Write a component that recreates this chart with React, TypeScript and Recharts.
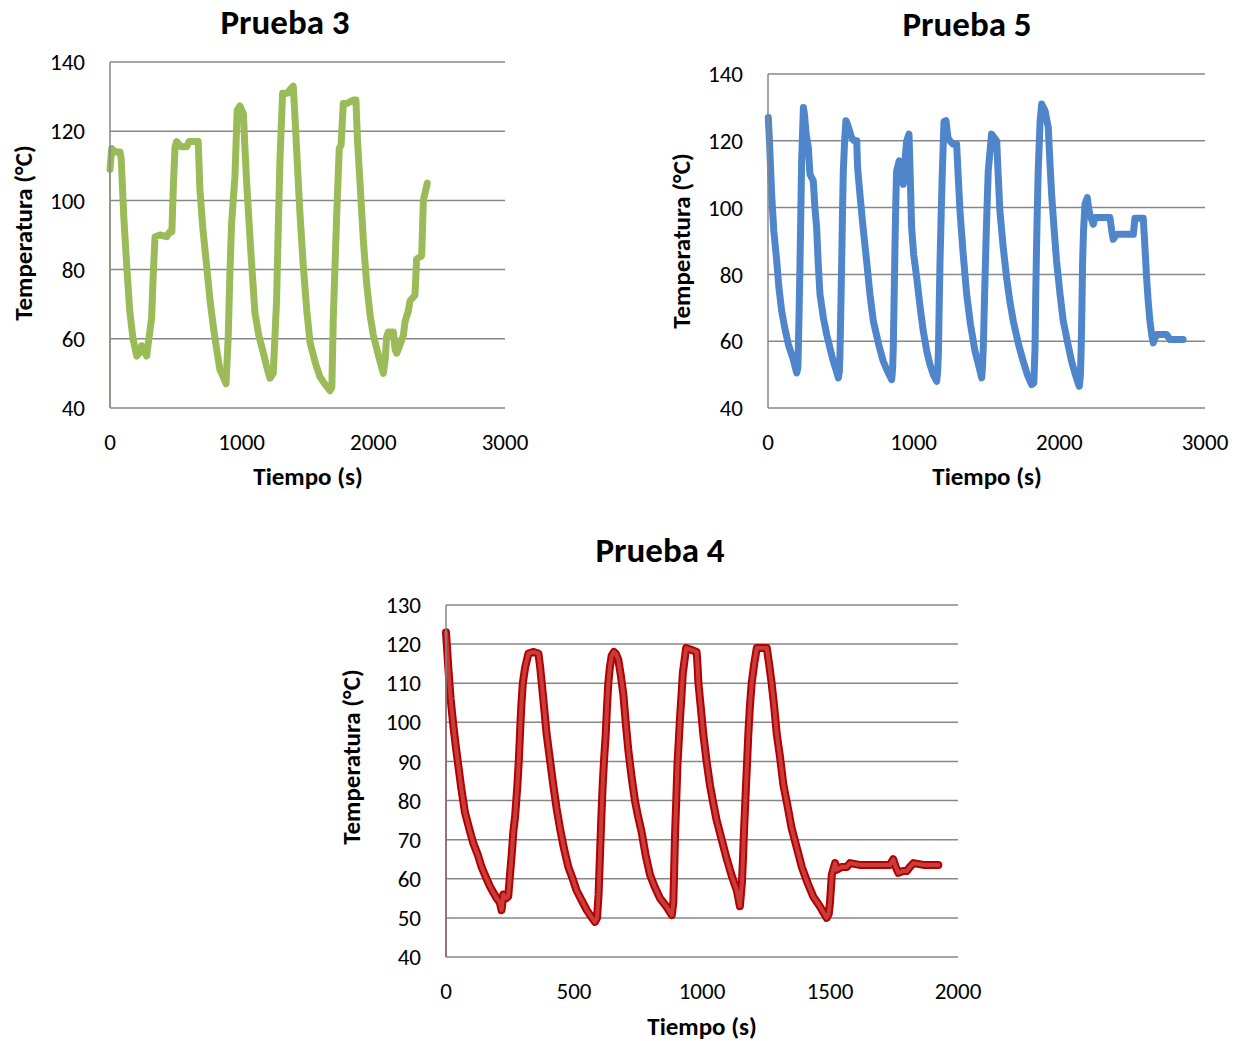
import React from "react";
import { LineChart, Line, XAxis, YAxis, CartesianGrid } from "recharts";

interface Punto {
  t: number;
  T: number;
}

const tiempo3: number[] = [
  0, 13, 40, 76, 85, 105, 127, 150, 175, 203, 225, 240, 258, 278, 295, 316,
  330, 342, 380, 430, 456, 470, 482, 494, 506, 540, 582, 600, 640, 670, 683,
  705, 734, 760, 785, 810, 835, 860, 881, 898, 910, 923, 949, 966, 987, 1013,
  1025, 1038, 1070, 1101, 1130, 1164, 1190, 1215, 1240, 1265, 1278, 1291, 1311,
  1349, 1367, 1392, 1405, 1417, 1440, 1468, 1495, 1519, 1560, 1595, 1630, 1671,
  1685, 1696, 1708, 1721, 1741, 1755, 1772, 1800, 1823, 1848, 1868, 1880, 1899,
  1925, 1949, 1975, 2000, 2040, 2076, 2090, 2101, 2114, 2152, 2165, 2177, 2200,
  2228, 2241, 2265, 2279, 2316, 2329, 2367, 2380, 2410,
];
const temp3: number[] = [
  109, 115, 114, 114, 112, 95, 81, 68, 60, 55, 56, 58, 57, 55, 60, 66, 80,
  89.5, 90, 89.5, 91, 91, 105, 115.5, 117, 115.5, 115.5, 117, 117, 117, 103,
  92, 81, 71, 63.5, 57, 51, 49, 47, 60.6, 78, 93, 107, 126, 127.3, 125, 115,
  105, 85, 67.4, 61, 56, 52, 48.6, 50, 71, 92, 112, 131, 131, 132, 133, 124,
  115, 98, 81, 68, 59, 53, 49, 47, 45, 46, 66, 80, 95, 115, 116, 128, 128,
  128.5, 129, 129, 117, 105, 88, 76, 67, 61, 55, 50, 54, 60.6, 62, 62, 57,
  55.8, 58, 61, 65, 68, 71, 72.6, 83, 84, 100, 105,
];

const tiempo5: number[] = [
  2, 10, 25, 40, 60, 75, 94, 115, 140, 170, 197, 205, 208, 214, 220, 226, 231,
  237, 243, 250, 262, 277, 288, 311, 322, 334, 345, 357, 380, 403, 425, 448,
  470, 483, 490, 494, 500, 506, 512, 517, 526, 535, 545, 574, 590, 609, 615,
  631, 655, 677, 700, 723, 760, 791, 820, 849, 856, 860, 866, 872, 877, 883,
  901, 915, 929, 940, 952, 968, 976, 986, 1000, 1021, 1045, 1066, 1090, 1112,
  1135, 1158, 1165, 1170, 1175, 1181, 1190, 1197, 1208, 1222, 1235, 1249, 1270,
  1295, 1305, 1318, 1340, 1364, 1390, 1421, 1445, 1467, 1472, 1478, 1487, 1496,
  1505, 1512, 1535, 1552, 1570, 1580, 1592, 1615, 1638, 1660, 1684, 1720, 1752,
  1780, 1810, 1825, 1833, 1838, 1844, 1850, 1855, 1868, 1879, 1902, 1915, 1924,
  1935, 1947, 1965, 1981, 2005, 2027, 2055, 2084, 2110, 2137, 2145, 2150, 2155,
  2160, 2166, 2176, 2192, 2200, 2210, 2233, 2245, 2256, 2300, 2347, 2360, 2370,
  2393, 2450, 2508, 2519, 2550, 2576, 2588, 2599, 2610, 2622, 2634, 2645, 2658,
  2668, 2700, 2736, 2759, 2800, 2850,
];
const temp5: number[] = [
  127, 120, 104, 93, 84, 76, 69, 64, 59, 55, 50.5, 52, 57, 70, 84, 100, 114,
  122, 130, 128, 122, 118, 110, 108, 100, 94, 83, 74, 67, 62, 58, 54, 51, 49,
  51, 56, 70, 84, 100, 111, 120, 126, 125, 121, 120, 120, 112, 104, 93, 84, 74,
  66, 59, 54, 51, 48.5, 52, 58, 73, 89, 101, 111, 114, 110, 107, 114, 120, 122,
  110, 94, 86, 79, 70, 63, 57, 53, 50, 48, 51, 57, 70, 84, 100, 111, 125.7, 126,
  121, 120, 119, 119, 110, 99, 86, 74, 65, 57, 53, 49, 52, 58, 74, 89, 102, 111,
  122, 121, 120, 110, 99, 88, 79, 72, 66, 59, 54, 50, 47, 47.5, 58, 74, 89, 102,
  111, 126, 131, 129, 126, 124, 114, 104, 93, 84, 74, 66, 60, 54, 50, 46.5, 50,
  58, 70, 84, 93, 101, 103, 100, 98, 95, 97, 97, 97, 97, 93, 90.5, 92, 92, 92,
  96.8, 96.8, 96.8, 88, 79, 72, 66, 62, 59.5, 61, 62, 62, 62, 60.5, 60.5, 60.5,
];

const tiempo4: number[] = [
  0, 9, 18, 29, 38, 48, 60, 74, 90, 107, 125, 139, 155, 172, 185, 198, 210,
  217, 224, 235, 243, 250, 257, 263, 270, 279, 285, 289, 294, 300, 309, 322,
  340, 361, 368, 374, 383, 393, 405, 419, 432, 445, 460, 478, 495, 510, 530,
  550, 565, 582, 590, 596, 602, 607, 612, 618, 624, 629, 634, 640, 647, 656,
  664, 673, 683, 693, 702, 712, 725, 738, 750, 764, 780, 797, 815, 836, 860,
  882, 888, 890, 895, 900, 904, 909, 914, 920, 925, 932, 938, 960, 979, 983,
  986, 995, 1005, 1018, 1031, 1045, 1057, 1077, 1097, 1115, 1136, 1142, 1148,
  1152, 1156, 1160, 1164, 1168, 1172, 1177, 1181, 1187, 1194, 1204, 1214, 1235,
  1253, 1262, 1272, 1282, 1292, 1305, 1318, 1333, 1350, 1370, 1390, 1412, 1435,
  1460, 1487, 1495, 1500, 1507, 1520, 1526, 1545, 1565, 1578, 1620, 1680, 1734,
  1747, 1757, 1767, 1786, 1800, 1812, 1826, 1870, 1923,
];
const temp4: number[] = [
  123, 114, 106, 99, 94, 89, 83, 77, 73, 69, 66, 63, 60.5, 58, 56.5, 55, 54,
  52, 56, 55, 55.5, 61, 66.5, 72, 76, 84, 91, 97, 104, 110, 114, 117.6, 118,
  117.6, 114, 110, 104, 97, 91, 84, 78, 73, 68, 63, 60, 57, 54.5, 52, 50.5, 49,
  50, 56, 67, 76, 84, 91, 97, 104, 110, 114, 117, 118, 117.5, 116, 112, 107,
  100, 93, 86, 80, 76, 72, 66, 61, 58, 55, 53, 50.7, 54, 59, 72, 81, 89, 95,
  101, 107, 112.5, 116, 119, 118.5, 118, 114, 110, 104, 97, 90, 84, 79, 75, 70,
  65, 61, 57, 55, 53, 56, 59, 65, 72, 78, 84, 91, 97, 104, 110, 115, 119, 119,
  119, 115, 110, 104, 97, 91, 84, 79, 73, 68, 63, 59, 55.4, 53, 50, 51, 54, 61,
  64, 62.3, 63, 63, 64, 63.5, 63.5, 63.5, 65, 63, 61.5, 62, 62, 63, 64, 63.5,
  63.5,
];

// the thin line Excel draws from an off-scale first point
const arranque3: Punto[] = [
  { t: 0, T: 40 },
  { t: 0, T: 109 },
];
const arranque4: Punto[] = [
  { t: 0, T: 40 },
  { t: 0, T: 123 },
];

const ticksX3000 = [0, 1000, 2000, 3000];
const ticksX2000 = [0, 500, 1000, 1500, 2000];
const ticksY140 = [40, 60, 80, 100, 120, 140];
const ticksY130 = [40, 50, 60, 70, 80, 90, 100, 110, 120, 130];

const juntar = (t: number[], T: number[]): Punto[] =>
  t.map((v, i) => ({ t: v, T: T[i] }));

const FONT = "Carlito, Lato, sans-serif";
const GRID = "#878787";

interface PanelProps {
  left: number;
  top: number;
  width: number;
  height: number;
  margin: { top: number; right: number; bottom: number; left: number };
  xHeight: number;
  xMax: number;
  xTicks: number[];
  yMax: number;
  yTicks: number[];
  serie: Punto[];
  arranque?: Punto[];
  color: string;
  inner?: string;
  grosor: number;
}

function Panel(p: PanelProps) {
  const tick = { fill: "#000", fontSize: 23, fontFamily: FONT };
  return (
    <div style={{ position: "absolute", left: p.left, top: p.top }}>
      <LineChart width={p.width} height={p.height} margin={p.margin}>
        <CartesianGrid vertical={false} stroke={GRID} strokeWidth={1.5} />
        <XAxis
          type="number"
          dataKey="t"
          domain={[0, p.xMax]}
          ticks={p.xTicks}
          height={p.xHeight}
          axisLine={false}
          tickLine={false}
          tickSize={0}
          tickMargin={26}
          tick={tick}
        />
        <YAxis
          type="number"
          dataKey="T"
          domain={[40, p.yMax]}
          ticks={p.yTicks}
          width={60}
          axisLine={{ stroke: GRID, strokeWidth: 1.5 }}
          tickLine={false}
          tickSize={0}
          tickMargin={25}
          tick={tick}
        />
        {p.arranque && (
          <Line
            data={p.arranque}
            dataKey="T"
            type="linear"
            stroke={p.color}
            strokeWidth={1.5}
            dot={false}
            isAnimationActive={false}
          />
        )}
        <Line
          data={p.serie}
          dataKey="T"
          type="linear"
          stroke={p.color}
          strokeWidth={p.grosor}
          strokeLinejoin="round"
          strokeLinecap="round"
          dot={false}
          isAnimationActive={false}
        />
        {p.inner && (
          <Line
            data={p.serie}
            dataKey="T"
            type="linear"
            stroke={p.inner}
            strokeWidth={p.grosor - 4}
            strokeLinejoin="round"
            strokeLinecap="round"
            dot={false}
            isAnimationActive={false}
          />
        )}
      </LineChart>
    </div>
  );
}

function Texto({
  x,
  y,
  size,
  rotate,
  children,
}: {
  x: number;
  y: number;
  size: number;
  rotate?: boolean;
  children: React.ReactNode;
}) {
  return (
    <div
      style={{
        position: "absolute",
        left: x,
        top: y,
        transform: `translate(-50%, -50%)${rotate ? " rotate(-90deg)" : ""}`,
        fontFamily: FONT,
        fontWeight: 700,
        fontSize: size,
        whiteSpace: "nowrap",
        color: "#000",
        lineHeight: 1,
      }}
    >
      {children}
    </div>
  );
}

export default function App() {
  return (
    <div
      style={{
        position: "absolute",
        left: 0,
        top: 0,
        width: 1244,
        height: 1041,
        background: "#fff",
        overflow: "hidden",
      }}
    >
      <Panel
        left={0}
        top={0}
        width={540}
        height={460}
        margin={{ top: 62, right: 35, bottom: 0, left: 50 }}
        xHeight={52}
        xMax={3000}
        xTicks={ticksX3000}
        yMax={140}
        yTicks={ticksY140}
        serie={juntar(tiempo3, temp3)}
        arranque={arranque3}
        color="#9BBB59"
        grosor={7}
      />
      <Panel
        left={680}
        top={0}
        width={560}
        height={460}
        margin={{ top: 74, right: 35, bottom: 0, left: 28 }}
        xHeight={52}
        xMax={3000}
        xTicks={ticksX3000}
        yMax={140}
        yTicks={ticksY140}
        serie={juntar(tiempo5, temp5)}
        color="#4F86CB"
        grosor={7}
      />
      <Panel
        left={340}
        top={500}
        width={660}
        height={510}
        margin={{ top: 105, right: 42, bottom: 0, left: 46 }}
        xHeight={53}
        xMax={2000}
        xTicks={ticksX2000}
        yMax={130}
        yTicks={ticksY130}
        serie={juntar(tiempo4, temp4)}
        arranque={arranque4}
        color="#B30000"
        inner="#C83C3C"
        grosor={8}
      />

      <Texto x={285} y={22} size={35}>Prueba 3</Texto>
      <Texto x={967} y={24} size={35}>Prueba 5</Texto>
      <Texto x={660} y={550} size={35}>Prueba 4</Texto>

      <Texto x={308} y={476} size={25}>Tiempo (s)</Texto>
      <Texto x={987} y={476} size={25}>Tiempo (s)</Texto>
      <Texto x={702} y={1026} size={25}>Tiempo (s)</Texto>

      <Texto x={23} y={233} size={25} rotate>Temperatura (°C)</Texto>
      <Texto x={681} y={241} size={25} rotate>Temperatura (°C)</Texto>
      <Texto x={351} y={757} size={25} rotate>Temperatura (°C)</Texto>
    </div>
  );
}
